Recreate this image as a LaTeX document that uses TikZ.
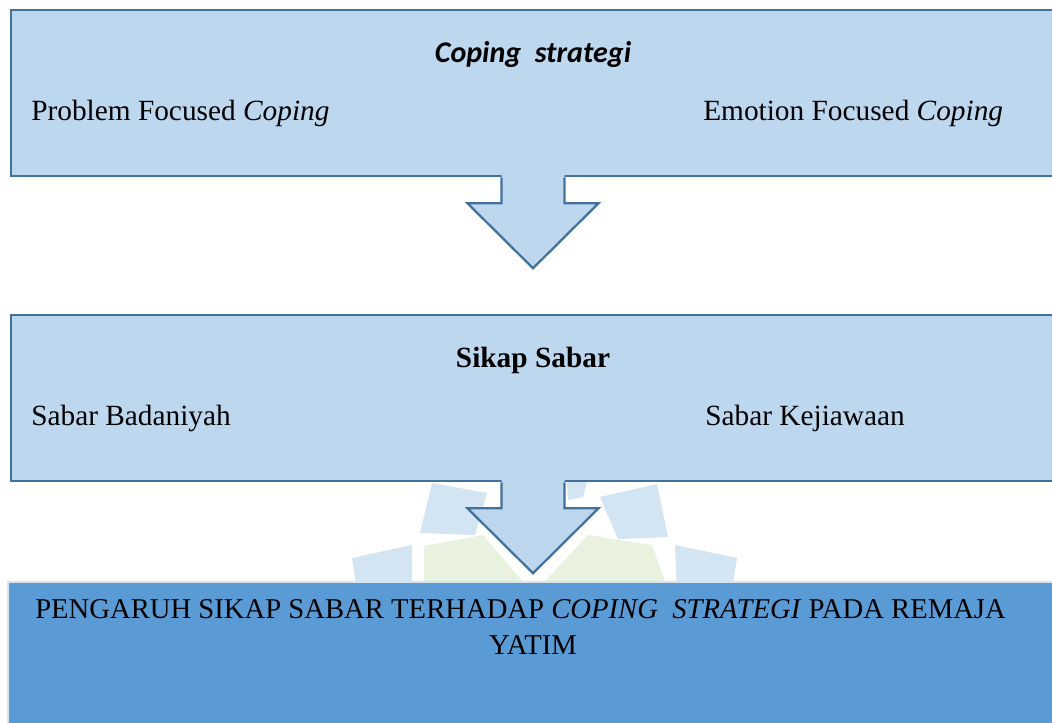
\documentclass[tikz,border=0pt]{standalone}
\usepackage{fontspec}
\setmainfont{Liberation Serif}
\newfontfamily\calibrifont{Carlito}
\usetikzlibrary{calc}

\definecolor{boxfill}{HTML}{BDD7EE}
\definecolor{boxline}{HTML}{41719C}
\definecolor{resultfill}{HTML}{5B9BD5}
\definecolor{resultline}{HTML}{D6E3F1}
\definecolor{wmblue}{HTML}{D3E5F3}
\definecolor{wmgreen}{HTML}{E9F2DF}

\tikzset{
  panel/.style={draw=boxline, fill=boxfill, line width=1.7pt, anchor=north west, inner sep=0pt},
  result/.style={draw=resultline, fill=resultfill, line width=1.5pt, anchor=north west, inner sep=0pt},
  label/.style={font=\fontsize{22}{27}\selectfont, anchor=base west, inner sep=0pt},
  blockarrow/.style={draw=boxline, line width=1.7pt, line join=miter},
}

\newcommand{\flowarrow}[1]{%
  \fill[boxfill] ($(#1)+(-31.5,-3)$) -- ++(0,29) -- ++(-34,0) -- ++(65.5,65) -- ++(65.5,-65) -- ++(-34,0) -- ++(0,-29) -- cycle;
  \draw[blockarrow] ($(#1)+(-31.5,0)$) -- ++(0,26) -- ++(-34,0) -- ++(65.5,65) -- ++(65.5,-65) -- ++(-34,0) -- ++(0,-26);
}

\begin{document}
\begin{tikzpicture}[x=0.75pt, y=-0.75pt]
		\useasboundingbox (0,0) rectangle (1052,722);
		\clip (0,0) rectangle (1052,722);
		\coordinate (axis) at (533,0);

		%watermark
		\fill[wmblue] (432,483) -- (487,493) -- (475,535) -- (420,533) -- cycle;
		\fill[wmblue] (600,497) -- (657,484) -- (668,537) -- (618,539) -- cycle;
		\fill[wmblue] (352,558) -- (412,545) -- (412,590) -- (357,590) -- cycle;
		\fill[wmblue] (675,545) -- (737,558) -- (732,590) -- (677,590) -- cycle;
		\fill[wmblue] (566,470) -- (590,470) -- (583,497) -- (568,500) -- cycle;
		\fill[wmgreen] (424,546) -- (483,535) -- (530,590) -- (424,590) -- cycle;
		\fill[wmgreen] (537,590) -- (588,535) -- (652,545) -- (668,590) -- cycle;

		%boxes
		\node[panel, minimum width=795pt, minimum height=124.5pt] (coping) at (10,9) {};
		\node[panel, minimum width=795pt, minimum height=124.5pt] (sabar) at (10,314) {};
		\node[result, minimum width=800pt, minimum height=115pt] (pengaruh) at (7,581) {};

		%arrows
		\flowarrow{coping.south -| axis}
		\flowarrow{sabar.south -| axis}

		%labels
		\node[label, anchor=base, font=\calibrifont\fontsize{22.5}{27}\selectfont\bfseries\itshape] (copingtitle) at (533,62) {Coping\ \ strategi};
		\node[label] (problem) at (31,120) {Problem Focused \textit{Coping}};
		\node[label] (emotion) at (703,120) {Emotion Focused \textit{Coping}};

		\node[label, anchor=base] (sabartitle) at (533,367) {\textbf{Sikap Sabar}};
		\node[label] (badaniyah) at (31,425) {Sabar Badaniyah};
		\node[label] (kejiawaan) at (705,425) {Sabar Kejiawaan};

		\node[label, font=\fontsize{21.5}{27}\selectfont] (resultone) at (35,618) {PENGARUH SIKAP SABAR TERHADAP \textit{COPING\ \ STRATEGI} PADA REMAJA};
		\node[label, anchor=base, font=\fontsize{21.5}{27}\selectfont] (resulttwo) at (533,654) {YATIM};
\end{tikzpicture}
\end{document}
